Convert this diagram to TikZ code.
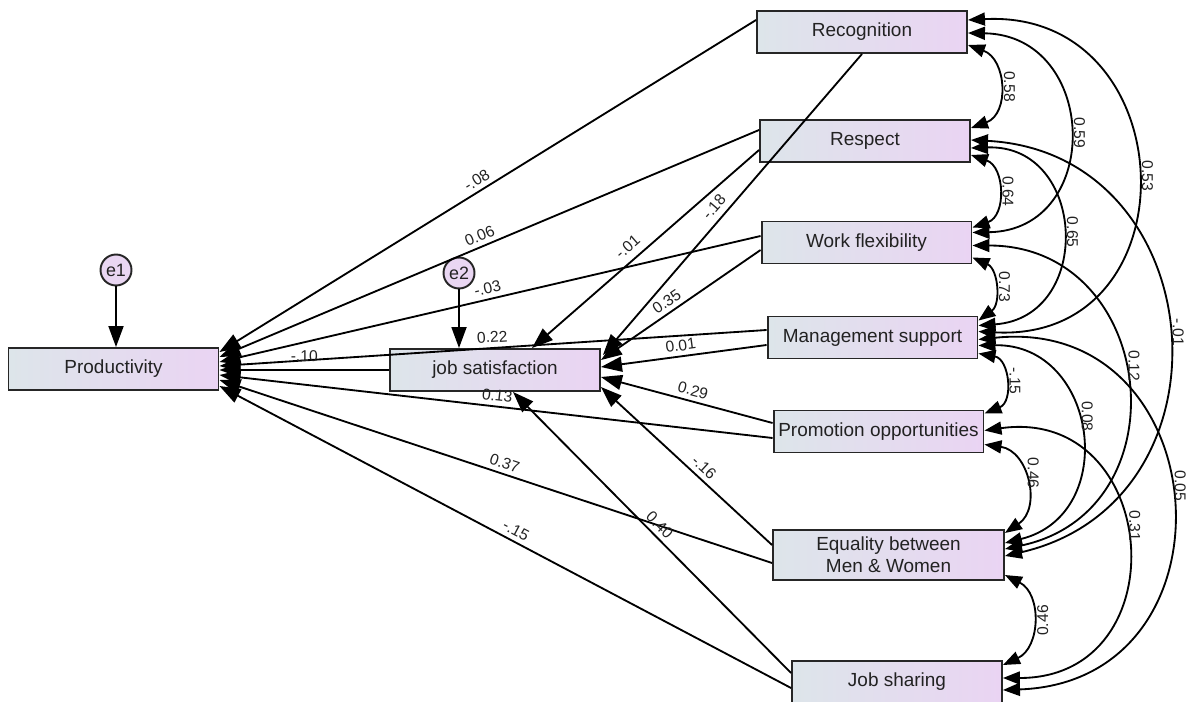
\documentclass[tikz,border=0pt]{standalone}
\usepackage{fontspec}
\setmainfont{Liberation Sans}
\usetikzlibrary{arrows.meta, calc}
\definecolor{boxleft}{HTML}{DDE5EA}
\definecolor{boxright}{HTML}{EAD4F3}
\definecolor{errfill}{HTML}{E9D6F2}
\definecolor{textdark}{HTML}{222222}
\tikzstyle{var} = [rectangle, draw=black!85, line width=1.1pt, left color=boxleft, right color=boxright, minimum width=4.2cm, minimum height=0.84cm, text=textdark, font=\fontsize{10.8}{12.5}\selectfont, align=center, inner sep=1pt]
\tikzstyle{err} = [circle, draw=black!85, line width=1.1pt, fill=errfill, minimum size=0.62cm, inner sep=0pt, text=textdark, font=\fontsize{10.2}{12}\selectfont]
\tikzstyle{reg} = [line width=1.05pt, -{Triangle[length=0.42cm,width=0.3cm]}]
\tikzstyle{cov} = [line width=1.05pt, {Triangle[length=0.34cm,width=0.26cm]}-{Triangle[length=0.34cm,width=0.26cm]}]
\tikzstyle{coef} = [font=\fontsize{8.9}{10}\selectfont, text=textdark, inner sep=2.5pt]

\begin{document}
\begin{tikzpicture}[x=0.02cm, y=0.02cm]
    \useasboundingbox (0,0) rectangle (1195,-702);
    % variables
    \node[var] (prod) at (113.5,-369) {Productivity};
    \node[var] (jobsat) at (495,-370) {job satisfaction};
    \node[var] (rec) at (862,-32) {Recognition};
    \node[var] (resp) at (865,-141) {Respect};
    \node[var] (wflex) at (866.5,-242.5) {Work flexibility};
    \node[var] (mgmt) at (872.5,-337.5) {Management support};
    \node[var] (promo) at (878.5,-431.5) {Promotion opportunities};
    \node[var, minimum width=4.62cm, minimum height=1cm] (equal) at (888.5,-555) {Equality between\\Men \& Women};
    \node[var] (jshare) at (897,-682) {Job sharing};
    \node[err] (e1) at (116,-270) {e1};
    \node[err] (e2) at (459,-273) {e2};

    \draw[reg] (e1) -- (e1 |- prod.north);
    \draw[reg] (e2) -- (e2 |- jobsat.north);

    % paths to Productivity
    \draw[reg] ($(rec.west)+(0,12)$) -- node[coef, pos=.51, sloped, above] {-.08} ($(prod.east)+(0,17)$);
    \draw[reg] ($(resp.west)+(0,11)$) -- node[coef, pos=.51, sloped, above] {0.06} ($(prod.east)+(0,12)$);
    \draw[reg] ($(wflex.west)+(0,6.5)$) -- node[coef, pos=.5, sloped, above] {-.03} ($(prod.east)+(0,7)$);
    \draw[reg] ($(mgmt.west)+(0,7.5)$) -- node[coef, pos=.5, sloped, above] {0.22} ($(prod.east)+(0,3)$);
    \draw[reg] (jobsat.west) -- node[coef, pos=.5, sloped, above=2pt] {-.10} ($(prod.east)+(0,-1)$);
    \draw[reg] ($(promo.west)+(0,-6.5)$) -- node[coef, pos=.5, sloped, above] {0.13} ($(prod.east)+(0,-6)$);
    \draw[reg] ($(equal.west)+(0,-8)$) -- node[coef, pos=.49, sloped, above] {0.37} ($(prod.east)+(0,-11)$);
    \draw[reg] ($(jshare.west)+(0,-6)$) -- node[coef, pos=.49, sloped, above] {-.15} ($(prod.east)+(0,-17)$);

    % paths to job satisfaction
    \draw[reg] (rec.south) -- node[coef, pos=.535, sloped, above=1pt] {-.18} ($(jobsat.east)+(2,15)$);
    \draw[reg] ($(resp.west)+(0,-9)$) -- node[coef, pos=.54, sloped, above=1.5pt] {-.01} ($(jobsat.north)+(37,0)$);
    \draw[reg] ($(wflex.west)+(0,-7.5)$) -- node[coef, pos=.55, sloped, above] {0.35} ($(jobsat.east)+(0,10)$);
    \draw[reg] ($(mgmt.west)+(0,-7.5)$) -- node[coef, pos=.51, sloped, above] {0.01} ($(jobsat.east)+(0,3)$);
    \draw[reg] ($(promo.west)+(0,8.5)$) -- node[coef, pos=.48, sloped, above] {0.29} ($(jobsat.east)+(0,-7)$);
    \draw[reg] ($(equal.west)+(0,10)$) -- node[coef, pos=.44, sloped, above] {-.16} ($(jobsat.east)+(0,-17)$);
    \draw[reg] ($(jshare.west)+(0,9)$) -- node[coef, pos=.5, sloped, above] {0.40} ($(jobsat.south)+(18,0)$);

    % covariances
    \draw[cov] ($(rec.east)+(0,-13)$) to[out=-20, in=20, looseness=1.27] node[coef, pos=.5, rotate=-90, anchor=south] {0.58} ($(resp.east)+(0,13)$);
    \draw[cov] ($(rec.east)+(0,-1)$) to[out=-1, in=1, looseness=1.68] node[coef, pos=.5, rotate=-90, anchor=south] {0.59} ($(wflex.east)+(0,10)$);
    \draw[cov] ($(rec.east)+(0,12)$) to[out=3, in=-3, looseness=1.79] node[coef, pos=.5, rotate=-90, anchor=south] {0.53} ($(mgmt.east)+(0,6)$);
    \draw[cov] ($(resp.east)+(0,-14)$) to[out=-19, in=19, looseness=1.27] node[coef, pos=.5, rotate=-90, anchor=south] {0.64} ($(wflex.east)+(0,15)$);
    \draw[cov] ($(resp.east)+(0,-7)$) to[out=2, in=4, looseness=1.67] node[coef, pos=.5, rotate=-90, anchor=south] {0.65} ($(mgmt.east)+(0,12)$);
    \draw[cov] ($(resp.east)+(0,1)$) to[out=-3, in=13, looseness=1.49] node[coef, pos=.5, rotate=-90, anchor=south] {-.01} ($(equal.east)+(0,-1)$);
    \draw[cov] ($(wflex.east)+(0,-15)$) to[out=-24, in=36, looseness=1.14] node[coef, pos=.5, rotate=-90, anchor=south] {0.73} ($(mgmt.east)+(0,17)$);
    \draw[cov] ($(wflex.east)+(0,-3)$) to[out=0, in=12, looseness=1.55] node[coef, pos=.46, rotate=-90, anchor=south] {0.12} ($(equal.east)+(0,6)$);
    \draw[cov] ($(mgmt.east)+(0,-16)$) to[out=-10, in=22, looseness=1.34] node[coef, pos=.5, rotate=-90, anchor=south] {-.15} ($(promo.east)+(0,18)$);
    \draw[cov] ($(mgmt.east)+(0,-8)$) to[out=1, in=14, looseness=1.53] node[coef, pos=.44, rotate=-90, anchor=south] {0.08} ($(equal.east)+(0,12)$);
    \draw[cov] ($(mgmt.east)+(0,-2)$) to[out=6, in=2, looseness=1.76] node[coef, pos=.47, rotate=-90, anchor=south] {0.05} ($(jshare.east)+(0,-8)$);
    \draw[cov] ($(promo.east)+(0,-13)$) to[out=-8, in=34, looseness=1.26] node[coef, pos=.42, rotate=-90, anchor=south] {0.46} ($(equal.east)+(0,22)$);
    \draw[cov] ($(promo.east)+(0,1)$) to[out=8, in=0, looseness=1.84] node[coef, pos=.45, rotate=-90, anchor=south] {0.31} ($(jshare.east)+(0,4)$);
    \draw[cov] ($(equal.east)+(0,-20)$) to[out=-27, in=25, looseness=1.18] node[coef, pos=.5, rotate=90, anchor=north] {0.46} ($(jshare.east)+(0,17)$);
\end{tikzpicture}
\end{document}
